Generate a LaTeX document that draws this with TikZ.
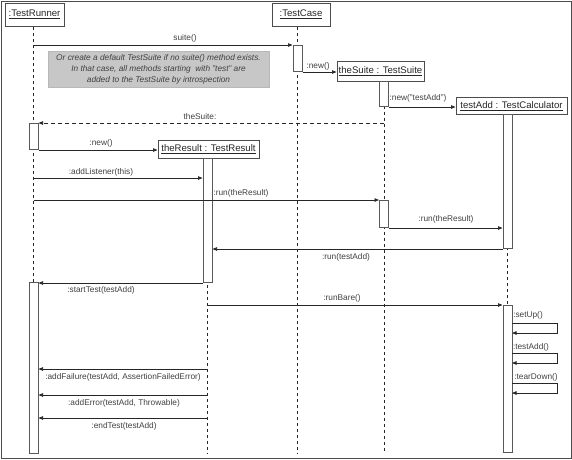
\documentclass[tikz,border=0pt]{standalone}
\usepackage{fontspec}
\setmainfont{Liberation Sans}
\usetikzlibrary{arrows.meta}
\begin{document}
\begin{tikzpicture}[x=1pt,y=-1pt,
  obj/.style={draw=black!70, line width=1pt, fill=white, inner sep=0pt, text=black!85,
    font=\fontsize{9.6}{11}\selectfont},
  act/.style={draw=black!65, line width=1pt, fill=white, minimum width=9pt, inner sep=0pt, anchor=north},
  life/.style={draw=black!85, dash pattern=on 3pt off 3pt, line width=0.7pt},
  msg/.style={draw=black!85, line width=0.7pt, -{Triangle[length=4.5pt,width=3.5pt]}},
  ret/.style={msg, dash pattern=on 4pt off 3pt},
  lbl/.style={font=\fontsize{8.3}{9}\selectfont, text=black!75, inner sep=0pt},
  note/.style={fill=black!22, draw=black!28, inner sep=0pt, minimum width=221pt, minimum height=36pt,
    align=center, font=\fontsize{8.3}{11}\selectfont\itshape, text=black!75},
]
\useasboundingbox (0,0) rectangle (572,459);
\draw[draw=black!70, line width=1pt] (1,1) rectangle (571,458);

% object boxes
\node[obj, minimum width=59pt, minimum height=23pt] (tr) at (34.5,14.5) {\underline{:TestRunner}};
\node[obj, minimum width=58pt, minimum height=23pt] (tc) at (301,14.5) {\underline{:TestCase}};
\node[obj, minimum width=87pt, minimum height=20pt] (ts) at (380.5,71) {\underline{theSuite : TestSuite}};
\node[obj, minimum width=111pt, minimum height=17pt] (ta) at (511.5,106) {\underline{testAdd : TestCalculator}};
\node[obj, minimum width=101pt, minimum height=18pt] (tres) at (208.5,149) {\underline{theResult : TestResult}};

% lifeline x positions and ends
\coordinate (LTR) at (33.5,0);
\coordinate (LTC) at (297.5,0);
\coordinate (LTS) at (384,0);
\coordinate (LTA) at (507.5,0);
\coordinate (LTRes) at (207.5,0);
\coordinate (endTC) at (297.5,453);
\coordinate (endTS) at (384,453);
\coordinate (endTRes) at (207.5,453);

\draw[life] (LTR |- tr.south) -- (33.5,282);
\draw[life] (LTC |- tc.south) -- (endTC);
\draw[life] (LTS |- ts.south) -- (endTS);
\draw[life] (LTA |- ta.south) -- (507.5,305);
\draw[life] (LTRes |- tres.south) -- (endTRes);

% note
\node[note] (nt) at (158.5,69) {Or create a default TestSuite if no suite() method exists.\\
In that case, all methods starting\ \ with "test" are\\ added to the TestSuite by introspection};

% activations
\node[act, minimum height=26pt] (actTC) at (297.5,45) {};
\node[act, minimum height=25pt] (actTS1) at (384,81) {};
\node[act, minimum height=134pt] (actTA1) at (507.5,114) {};
\node[act, minimum height=26pt] (actTR1) at (33.5,123) {};
\node[act, minimum height=124pt] (actTRes) at (207.5,158) {};
\node[act, minimum height=27pt] (actTS2) at (384,200) {};
\node[act, minimum height=171pt] (actTR2) at (33.5,282) {};
\node[act, minimum height=147pt] (actTA2) at (507.5,305) {};

% messages
\draw[msg] (LTR |- actTC.north west) -- (actTC.north west);
\node[lbl] (l1) at (185,38) {suite()};

\draw[msg] (actTC.south east) -- (ts.west |- actTC.south east);
\node[lbl] (l2) at (318,66) {:new()};

\draw[msg] (actTS1.south east) -- (ta.west |- actTS1.south east);
\node[lbl] (l3) at (418,98) {:new("testAdd")};

\draw[ret] (LTS |- actTR1.north east) -- (actTR1.north east);
\node[lbl] (l4) at (200,117) {theSuite:};

\draw[msg] (actTR1.south east) -- (tres.west |- actTR1.south east);
\node[lbl] (l5) at (101,143) {:new()};

\coordinate (addL) at (33.5,178);
\draw[msg] (addL) -- (addL -| actTRes.west);
\node[lbl] (l6) at (101,172) {:addListener(this)};

\draw[msg] (LTR |- actTS2.north west) -- (actTS2.north west);
\node[lbl] (l7) at (241,193) {:run(theResult)};

\draw[msg] (actTS2.south east) -- (actTS2.south east -| actTA1.west);
\node[lbl] (l8) at (446,219) {:run(theResult)};

\draw[msg] (actTA1.south west) -- (actTA1.south west -| actTRes.east);
\node[lbl] (l9) at (346,257) {:run(testAdd)};

\draw[msg] (actTRes.south west) -- (actTRes.south west -| actTR2.east);
\node[lbl] (l10) at (101,290) {:startTest(testAdd)};

\draw[msg] (LTRes |- actTA2.north west) -- (actTA2.north west);
\node[lbl] (l11) at (342,298) {:runBare()};

% self calls
\coordinate (s1) at (512,323);
\coordinate (s2) at (512,333);
\draw[msg] (s1) -- (557,323) -- (557,333) -- (s2);
\node[lbl] (l12) at (528,315) {:setUp()};
\coordinate (s3) at (512,353);
\coordinate (s4) at (512,363);
\draw[msg] (s3) -- (557,353) -- (557,363) -- (s4);
\node[lbl] (l13) at (531,347) {:testAdd()};
\coordinate (s5) at (512,383);
\coordinate (s6) at (512,393);
\draw[msg] (s5) -- (557,383) -- (557,393) -- (s6);
\node[lbl] (l14) at (536,377) {:tearDown()};

% callbacks to TestRunner
\coordinate (f1) at (207.5,369);
\draw[msg] (f1) -- (f1 -| actTR2.east);
\node[lbl] (l15) at (123,377) {:addFailure(testAdd, AssertionFailedError)};
\coordinate (f2) at (207.5,395);
\draw[msg] (f2) -- (f2 -| actTR2.east);
\node[lbl] (l16) at (124,403) {:addError(testAdd, Throwable)};
\coordinate (f3) at (207.5,418);
\draw[msg] (f3) -- (f3 -| actTR2.east);
\node[lbl] (l17) at (124,426) {:endTest(testAdd)};
\end{tikzpicture}
\end{document}
